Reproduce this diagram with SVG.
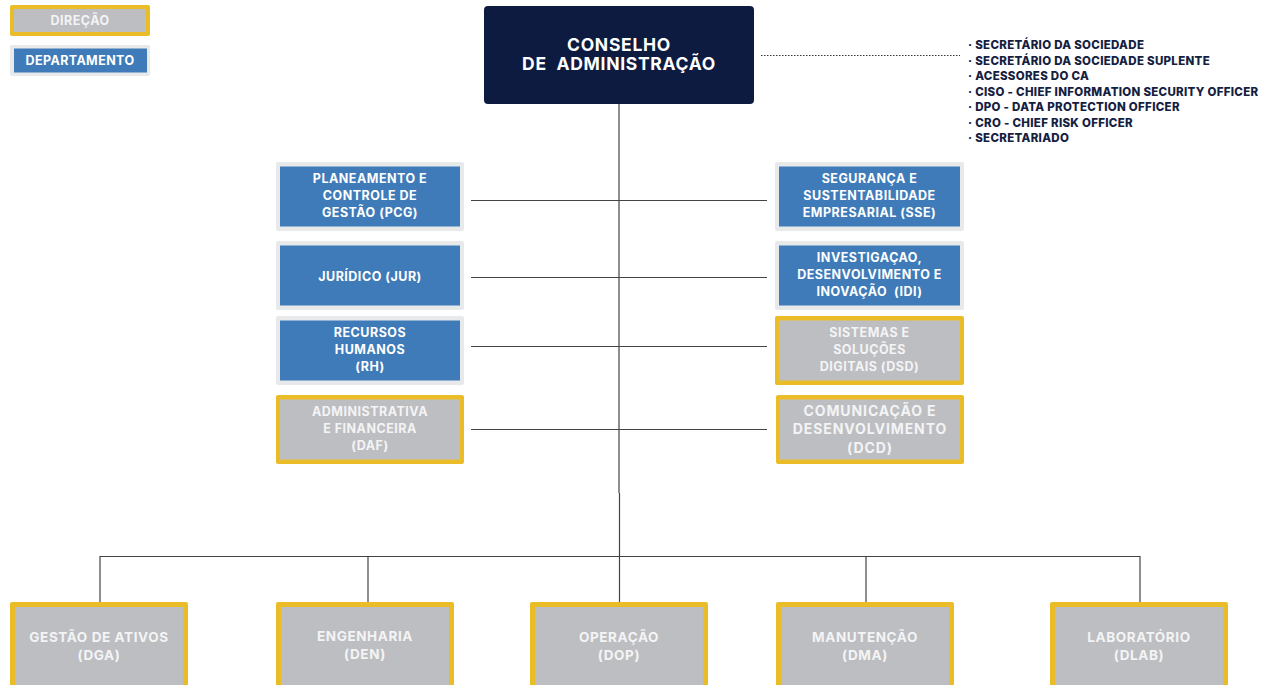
<svg xmlns="http://www.w3.org/2000/svg" width="1273" height="685" viewBox="0 0 1273 685">
<defs>
<style>
.t{font-family:Inter,"Open Sans","Liberation Sans",sans-serif;font-weight:700;text-anchor:middle;}
.w{fill:#ffffff;font-size:12.5px;letter-spacing:0.5px;}
.g{fill:#f4f4f5;font-size:12.5px;letter-spacing:0.5px;}
.b{font-size:13.5px;letter-spacing:0.6px;}
.dirO{fill:#eabd28;}
.dirI{fill:#bdbec2;}
.depO{fill:#e8e9ea;}
.depI{fill:#3e7bb8;}
.ln{stroke:#444;stroke-width:1.2;fill:none;}
.lst{font-family:Inter,"Open Sans","Liberation Sans",sans-serif;font-weight:800;font-size:11.5px;letter-spacing:0.3px;fill:#14203f;}
</style>
</defs>
<rect width="1273" height="685" fill="#ffffff"/>
<g id="legend-direcao">
<rect class="dirO" x="10" y="5" width="140" height="31" rx="2"/>
<rect class="dirI" x="14" y="9" width="132" height="23"/>
<text class="t g" x="80" y="24.5">DIREÇÃO</text>
</g>
<g id="legend-departamento">
<rect class="depO" x="10" y="45" width="140" height="31" rx="2"/>
<rect class="depI" x="14" y="48.5" width="133" height="24"/>
<text class="t w" x="80" y="65" style="letter-spacing:0.4px">DEPARTAMENTO</text>
</g>
<g id="connectors">
<line class="ln" x1="619" y1="104" x2="619" y2="493"/>
<line class="ln" x1="619.5" y1="493" x2="619.5" y2="556"/>
<line class="ln" x1="100" y1="556.5" x2="1140" y2="556.5" stroke="#666" stroke-width="1.5"/>
<line class="ln" x1="100" y1="556" x2="100" y2="603"/>
<line class="ln" x1="368" y1="556" x2="368" y2="603"/>
<line class="ln" x1="619.5" y1="556" x2="619.5" y2="603"/>
<line class="ln" x1="866" y1="556" x2="866" y2="603"/>
<line class="ln" x1="1140" y1="556" x2="1140" y2="603"/>
<line class="ln" x1="471" y1="200.5" x2="767" y2="200.5"/>
<line class="ln" x1="471" y1="277.5" x2="767" y2="277.5"/>
<line class="ln" x1="471" y1="346.5" x2="767" y2="346.5"/>
<line class="ln" x1="471" y1="429.5" x2="767" y2="429.5"/>
<line x1="761" y1="55.5" x2="960" y2="55.5" stroke="#333" stroke-width="1" stroke-dasharray="1.5,1.5"/>
</g>
<g id="conselho">
<rect x="484" y="6" width="270" height="98" rx="4" fill="#0e1b40"/>
<text class="t" x="619" y="51" font-size="17.5" fill="#ffffff" style="letter-spacing:0.7px">CONSELHO</text>
<text class="t" x="619" y="70" font-size="17.5" fill="#ffffff" style="letter-spacing:0.7px" xml:space="preserve">DE  ADMINISTRAÇÃO</text>
</g>
<g id="assessoria">
<text class="lst" x="968" y="49">· SECRETÁRIO DA SOCIEDADE</text>
<text class="lst" x="968" y="64.5">· SECRETÁRIO DA SOCIEDADE SUPLENTE</text>
<text class="lst" x="968" y="80">· ACESSORES DO CA</text>
<text class="lst" x="968" y="95.5">· CISO - CHIEF INFORMATION SECURITY OFFICER</text>
<text class="lst" x="968" y="111">· DPO - DATA PROTECTION OFFICER</text>
<text class="lst" x="968" y="126.5">· CRO - CHIEF RISK OFFICER</text>
<text class="lst" x="968" y="142">· SECRETARIADO</text>
</g>
<g id="pcg">
<rect class="depO" x="276" y="162" width="188" height="69" rx="2"/>
<rect class="depI" x="280" y="166.5" width="180" height="60"/>
<text class="t w" x="370" y="182.5">PLANEAMENTO E</text>
<text class="t w" x="370" y="199.5">CONTROLE DE</text>
<text class="t w" x="370" y="216.5">GESTÃO (PCG)</text>
</g>
<g id="jur">
<rect class="depO" x="276" y="241" width="188" height="69" rx="2"/>
<rect class="depI" x="280" y="245.5" width="180" height="60"/>
<text class="t w" x="370" y="280.5">JURÍDICO (JUR)</text>
</g>
<g id="rh">
<rect class="depO" x="276" y="316" width="188" height="69" rx="2"/>
<rect class="depI" x="280" y="320.5" width="180" height="60"/>
<text class="t w" x="370" y="336.5">RECURSOS</text>
<text class="t w" x="370" y="353.5">HUMANOS</text>
<text class="t w" x="370" y="370.5">(RH)</text>
</g>
<g id="daf">
<rect class="dirO" x="276" y="395" width="188" height="69" rx="2"/>
<rect class="dirI" x="280" y="399.5" width="180" height="60"/>
<text class="t g" x="370" y="415.5">ADMINISTRATIVA</text>
<text class="t g" x="370" y="432.5">E FINANCEIRA</text>
<text class="t g" x="370" y="449.5">(DAF)</text>
</g>
<g id="sse">
<rect class="depO" x="775" y="162" width="189" height="69" rx="2"/>
<rect class="depI" x="779" y="166.5" width="181" height="60"/>
<text class="t w" x="869.5" y="182.5">SEGURANÇA E</text>
<text class="t w" x="869.5" y="199.5">SUSTENTABILIDADE</text>
<text class="t w" x="869.5" y="216.5">EMPRESARIAL (SSE)</text>
</g>
<g id="idi">
<rect class="depO" x="775" y="241" width="189" height="69" rx="2"/>
<rect class="depI" x="779" y="245.5" width="181" height="60"/>
<text class="t w" x="869.5" y="262">INVESTIGAÇAO,</text>
<text class="t w" x="869.5" y="279">DESENVOLVIMENTO E</text>
<text class="t w" x="869.5" y="296" xml:space="preserve">INOVAÇÃO  (IDI)</text>
</g>
<g id="dsd">
<rect class="dirO" x="775" y="316" width="189" height="69" rx="2"/>
<rect class="dirI" x="779" y="320.5" width="181" height="60"/>
<text class="t g" x="869.5" y="336.5">SISTEMAS E</text>
<text class="t g" x="869.5" y="353.5">SOLUÇÕES</text>
<text class="t g" x="869.5" y="370.5">DIGITAIS (DSD)</text>
</g>
<g id="dcd">
<rect class="dirO" x="776" y="395" width="188" height="69" rx="2"/>
<rect class="dirI" x="780" y="399.5" width="180" height="60"/>
<text class="t g" x="870" y="415.5" style="font-size:14px;letter-spacing:0.9px">COMUNICAÇÃO E</text>
<text class="t g" x="870" y="434" style="font-size:14px;letter-spacing:0.9px">DESENVOLVIMENTO</text>
<text class="t g" x="870" y="452.5" style="font-size:14px;letter-spacing:0.9px">(DCD)</text>
</g>
<g id="dga">
<rect class="dirO" x="10" y="602" width="178" height="90" rx="2"/>
<rect class="dirI" x="15" y="607" width="168" height="85"/>
<text class="t g b" x="99" y="641.5">GESTÃO DE ATIVOS</text>
<text class="t g b" x="99" y="659.5">(DGA)</text>
</g>
<g id="den">
<rect class="dirO" x="276" y="602" width="178" height="90" rx="2"/>
<rect class="dirI" x="281" y="607" width="168" height="85"/>
<text class="t g b" x="365" y="640.5">ENGENHARIA</text>
<text class="t g b" x="365" y="658.5">(DEN)</text>
</g>
<g id="dop">
<rect class="dirO" x="530" y="602" width="178" height="90" rx="2"/>
<rect class="dirI" x="535" y="607" width="168" height="85"/>
<text class="t g b" x="619" y="641.5">OPERAÇÃO</text>
<text class="t g b" x="619" y="659.5">(DOP)</text>
</g>
<g id="dma">
<rect class="dirO" x="776" y="602" width="178" height="90" rx="2"/>
<rect class="dirI" x="781" y="607" width="168" height="85"/>
<text class="t g b" x="865" y="641.5">MANUTENÇÃO</text>
<text class="t g b" x="865" y="659.5">(DMA)</text>
</g>
<g id="dlab">
<rect class="dirO" x="1050" y="602" width="178" height="90" rx="2"/>
<rect class="dirI" x="1055" y="607" width="168" height="85"/>
<text class="t g b" x="1139" y="641.5">LABORATÓRIO</text>
<text class="t g b" x="1139" y="659.5">(DLAB)</text>
</g>
</svg>
